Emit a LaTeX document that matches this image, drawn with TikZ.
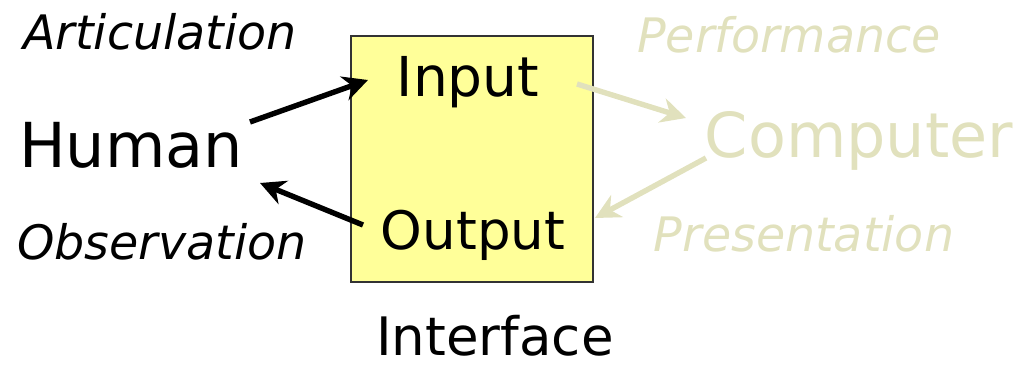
\documentclass[tikz,border=0pt]{standalone}
\usepackage{fontspec}
\setmainfont{DejaVu Sans}
\usetikzlibrary{arrows.meta}
\definecolor{faded}{HTML}{E1E1BD}
\definecolor{boxyellow}{HTML}{FFFF99}
\definecolor{boxline}{HTML}{333333}
\tikzset{
  big/.style={font=\fontsize{62}{62}\selectfont, inner sep=0pt, anchor=base},
  mid/.style={font=\fontsize{53}{53}\selectfont, inner sep=0pt, anchor=base},
  lab/.style={font=\fontsize{47.5}{47.5}\selectfont\itshape, inner sep=0pt, anchor=base},
  conn/.style={line width=5.4pt, -{Stealth[length=25pt,width=25pt,inset=8pt]}},
  fconn/.style={conn, draw=faded},
}
\begin{document}
\begin{tikzpicture}[x=1pt,y=1pt]
\useasboundingbox (0,0) rectangle (1032,366);
% interface box
\draw[fill=boxyellow, draw=boxline, line width=1.2pt] (351,84) rectangle (593,330);
\node[big] (human) at (131,198) {Human};
\node[big, text=faded] (computer) at (859,208) {Computer};
\node[mid, font=\fontsize{55}{55}\selectfont] (input) at (468,269) {Input};
\node[mid] (output) at (473,116) {Output};
\node[mid] (interface) at (495,10) {Interface};
\node[lab] (artic) at (160,316) {Articulation};
\node[lab] (observ) at (162,106) {Observation};
\node[lab, text=faded] (perf) at (789,313) {Performance};
\node[lab, text=faded] (pres) at (804,114) {Presentation};
\coordinate (h1) at (250,244);
\coordinate (i1) at (368,286);
\coordinate (o1) at (363,141);
\coordinate (h2) at (260,183);
\coordinate (i2) at (577,282);
\coordinate (c1) at (686,248);
\coordinate (c2) at (706,208);
\coordinate (o2) at (595,148);
\draw[conn] (h1) -- (i1);
\draw[conn] (o1) -- (h2);
\draw[fconn] (i2) -- (c1);
\draw[fconn] (c2) -- (o2);
\end{tikzpicture}
\end{document}
